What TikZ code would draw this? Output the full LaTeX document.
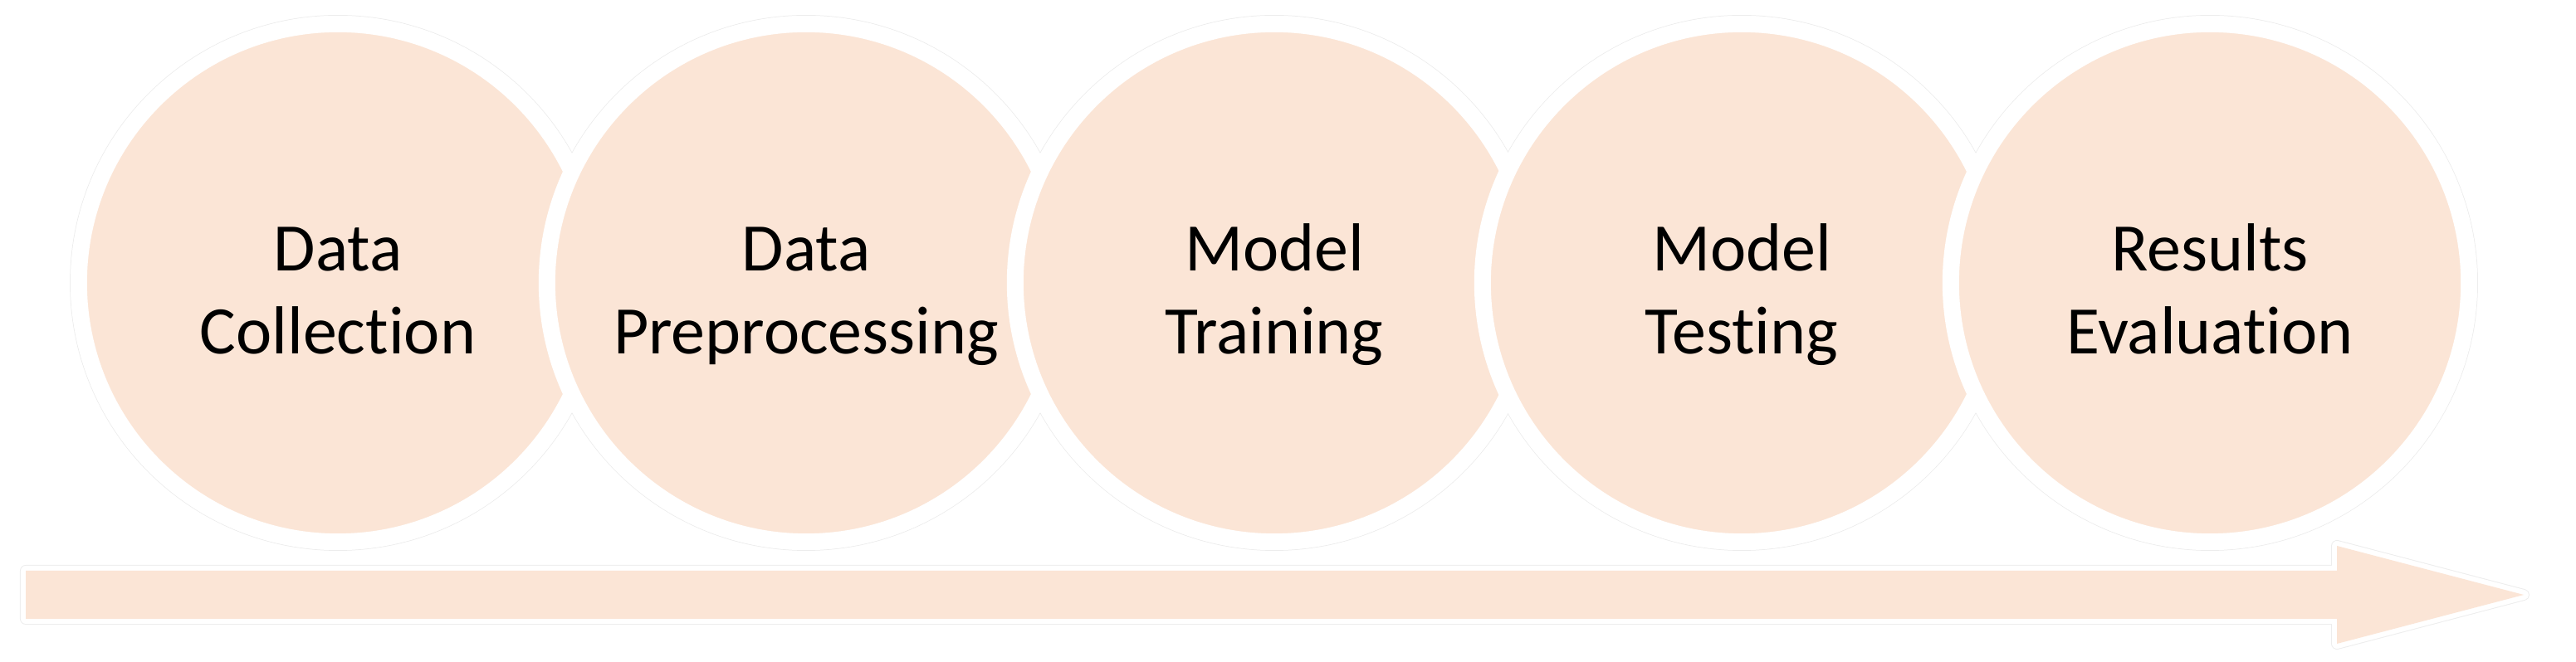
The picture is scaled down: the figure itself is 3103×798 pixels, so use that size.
\documentclass[tikz,border=0pt]{standalone}
\usepackage{fontspec}
\setmainfont{Carlito}[Ligatures=NoCommon]
\definecolor{peach}{HTML}{FBE5D6}
\newcommand\twoline[2]{\rule{0pt}{0.8em}#1\\#2\rule[-0.8em]{0pt}{0.8em}}
\begin{document}
\begin{tikzpicture}[x=0.01cm,y=-0.01cm,
  stage/.style={circle, fill=peach, draw=white, line width=0.2cm,
    minimum size=6.24cm, inner sep=0pt, outer sep=0pt},
  halo/.style={circle, draw=black!8, line width=0.015cm,
    minimum size=6.44cm, inner sep=0pt, outer sep=0pt},
  lbl/.style={font=\fontsize{23.3pt}{28.7pt}\selectfont, align=center,
    inner sep=0pt, text=black, yshift=-0.355cm},
  flow/.style={fill=peach,
    preaction={draw=black!7, line width=0.14cm, line join=round},
    preaction={draw=white, line width=0.12cm, line join=round}}
]
\useasboundingbox (0,0) rectangle (3103,798);
% timeline arrow
\path[flow] (31,688) -- (2815,688) -- (2815,658) -- (3040,717)
  -- (2815,776) -- (2815,746) -- (31,746) -- cycle;
% faint outer outlines
\foreach \x/\n in {407/h1,971/h2,1535/h3,2098/h4,2662/h5}
  \node[halo] (\n) at (\x,341) {};
% circles
\node[stage] (c1) at (407,341) {};
\node[stage] (c2) at (971,341) {};
\node[stage] (c3) at (1535,341) {};
\node[stage] (c4) at (2098,341) {};
\node[stage] (c5) at (2662,341) {};
% labels
\node[lbl] (t1) at (c1) {\twoline{Data}{Collection}};
\node[lbl] (t2) at (c2) {\twoline{Data}{Preprocessing}};
\node[lbl] (t3) at (c3) {\twoline{Model}{Training}};
\node[lbl] (t4) at (c4) {\twoline{Model}{Testing}};
\node[lbl] (t5) at (c5) {\twoline{Results}{Evaluation}};
\end{tikzpicture}
\end{document}
